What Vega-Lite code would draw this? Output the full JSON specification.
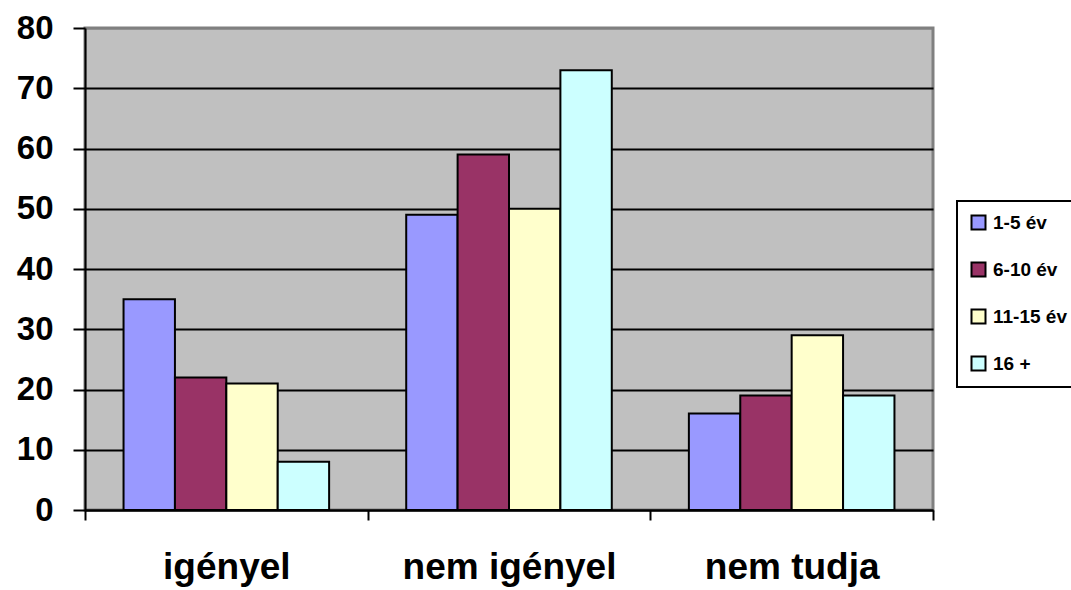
{
  "$schema": "https://vega.github.io/schema/vega-lite/v6.json",
  "width": 848,
  "height": 482,
  "autosize": {"type": "none"},
  "padding": {"left": 85, "top": 28, "right": 138, "bottom": 80},
  "background": "white",
  "config": {
    "view": {"fill": "#C0C0C0", "stroke": "#808080", "strokeWidth": 3},
    "font": "Liberation Sans"
  },
  "data": {
    "values": [
      {"cat": "igényel", "group": "1-5 év", "value": 35},
      {"cat": "igényel", "group": "6-10 év", "value": 22},
      {"cat": "igényel", "group": "11-15 év", "value": 21},
      {"cat": "igényel", "group": "16 +", "value": 8},
      {"cat": "nem igényel", "group": "1-5 év", "value": 49},
      {"cat": "nem igényel", "group": "6-10 év", "value": 59},
      {"cat": "nem igényel", "group": "11-15 év", "value": 50},
      {"cat": "nem igényel", "group": "16 +", "value": 73},
      {"cat": "nem tudja", "group": "1-5 év", "value": 16},
      {"cat": "nem tudja", "group": "6-10 év", "value": 19},
      {"cat": "nem tudja", "group": "11-15 év", "value": 29},
      {"cat": "nem tudja", "group": "16 +", "value": 19}
    ]
  },
  "mark": {"type": "bar", "stroke": "black", "strokeWidth": 2},
  "encoding": {
    "x": {
      "field": "cat",
      "type": "nominal",
      "sort": ["igényel", "nem igényel", "nem tudja"],
      "scale": {"paddingInner": 0, "paddingOuter": 0},
      "axis": {
        "title": null,
        "labelAngle": 0,
        "labelFont": "Liberation Sans",
        "labelFontSize": 37,
        "labelFontWeight": "bold",
        "labelColor": "black",
        "labelBaseline": "alphabetic",
        "labelPadding": 58,
        "labelLimit": 500,
        "tickBand": "extent",
        "tickSize": 10,
        "tickWidth": 2,
        "tickColor": "black",
        "domainColor": "black",
        "domainWidth": 2,
        "grid": false
      }
    },
    "xOffset": {
      "field": "group",
      "type": "nominal",
      "sort": ["1-5 év", "6-10 év", "11-15 év", "16 +"],
      "scale": {"paddingInner": 0, "paddingOuter": 0.75}
    },
    "y": {
      "field": "value",
      "type": "quantitative",
      "scale": {"domain": [0, 80], "nice": false},
      "axis": {
        "title": null,
        "values": [0, 10, 20, 30, 40, 50, 60, 70, 80],
        "labelFont": "Liberation Sans",
        "labelFontSize": 33,
        "labelFontWeight": "bold",
        "labelColor": "black",
        "labelPadding": 20,
        "tickSize": 12,
        "tickWidth": 2,
        "tickColor": "black",
        "domainColor": "black",
        "domainWidth": 2,
        "grid": true,
        "gridColor": {"condition": {"test": "datum.value == 80", "value": "#808080"}, "value": "black"},
        "gridWidth": 2,
        "gridOpacity": 1
      }
    },
    "color": {
      "field": "group",
      "type": "nominal",
      "sort": ["1-5 év", "6-10 év", "11-15 év", "16 +"],
      "scale": {
        "domain": ["1-5 év", "6-10 év", "11-15 év", "16 +"],
        "range": ["#9999FF", "#993366", "#FFFFCC", "#CCFFFF"]
      },
      "legend": {
        "title": null,
        "orient": "none",
        "legendX": 872,
        "legendY": 173,
        "padding": 12,
        "fillColor": "white",
        "strokeColor": "black",
        "symbolType": "square",
        "symbolSize": 196,
        "symbolStrokeColor": "black",
        "symbolStrokeWidth": 2,
        "symbolOpacity": 1,
        "labelFont": "Liberation Sans",
        "labelFontSize": 19,
        "labelFontWeight": "bold",
        "labelColor": "black",
        "labelOffset": 5,
        "rowPadding": 24,
        "encode": {"legend": {"update": {"strokeWidth": {"value": 2}}}}
      }
    }
  }
}
